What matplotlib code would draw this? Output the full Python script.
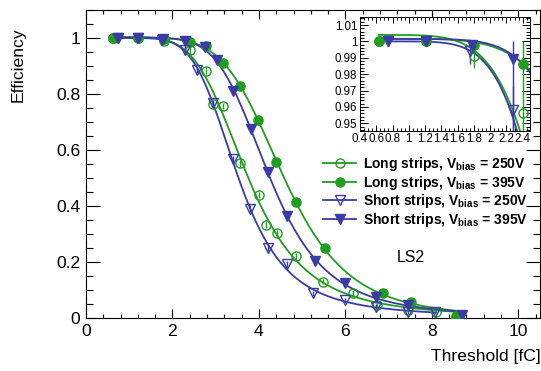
import numpy as np
import matplotlib
matplotlib.use("Agg")
import matplotlib.pyplot as plt
from matplotlib.lines import Line2D
from matplotlib.ticker import MultipleLocator

plt.rcParams['font.family'] = ['Liberation Sans', 'DejaVu Sans']
plt.rcParams['mathtext.fontset'] = 'custom'
plt.rcParams['mathtext.rm'] = 'Liberation Sans'
plt.rcParams['mathtext.bf'] = 'Liberation Sans:bold'

# ---------------- data ----------------
labels = ["Long strips, V$_{\\mathregular{bias}}$ = 250V",
          "Long strips, V$_{\\mathregular{bias}}$ = 395V",
          "Short strips, V$_{\\mathregular{bias}}$ = 250V",
          "Short strips, V$_{\\mathregular{bias}}$ = 395V"]

x_l250 = [0.63, 1.21, 1.80, 2.40, 2.77, 2.93, 3.17, 3.56, 4.00, 4.17, 4.42, 4.85, 5.48, 6.17, 6.73, 7.45, 8.10, 8.56]
y_l250 = [1.0, 1.0, 0.991, 0.956, 0.883, 0.764, 0.757, 0.552, 0.439, 0.332, 0.302, 0.220, 0.130, 0.090, 0.046, 0.030, 0.023, 0.008]
elo_l250 = [0.003, 0.003, 0.007, 0.030, 0.012, 0.012, 0.012, 0.012, 0.012, 0.012, 0.012, 0.012, 0.010, 0.010, 0.008, 0.008, 0.006, 0.005]
ehi_l250 = [0.0, 0.0, 0.007, 0.044, 0.012, 0.012, 0.012, 0.012, 0.012, 0.012, 0.012, 0.012, 0.010, 0.010, 0.008, 0.008, 0.006, 0.005]

x_l395 = [0.63, 1.21, 1.80, 2.40, 2.77, 3.16, 3.57, 3.98, 4.40, 4.85, 5.52, 6.87, 7.52, 8.56]
y_l395 = [1.0, 1.0, 0.998, 0.986, 0.971, 0.912, 0.829, 0.707, 0.558, 0.415, 0.249, 0.088, 0.058, 0.005]
elo_l395 = [0.002, 0.002, 0.003, 0.004, 0.006, 0.010, 0.012, 0.012, 0.012, 0.012, 0.012, 0.010, 0.008, 0.004]
ehi_l395 = [0.0, 0.0, 0.002, 0.004, 0.006, 0.010, 0.012, 0.012, 0.012, 0.012, 0.012, 0.010, 0.008, 0.004]

x_s250 = [0.75, 1.21, 1.75, 2.28, 2.57, 2.94, 3.39, 3.79, 4.21, 4.65, 5.25, 5.98, 6.71, 7.45, 8.07]
y_s250 = [1.0, 1.0, 0.994, 0.958, 0.886, 0.767, 0.567, 0.390, 0.250, 0.193, 0.088, 0.064, 0.041, 0.022, 0.020]
elo_s250 = [0.003, 0.003, 0.008, 0.015, 0.012, 0.012, 0.012, 0.012, 0.012, 0.012, 0.010, 0.008, 0.008, 0.006, 0.006]
ehi_s250 = [0.0, 0.0, 0.005, 0.015, 0.012, 0.012, 0.012, 0.012, 0.012, 0.012, 0.010, 0.008, 0.008, 0.006, 0.006]

x_s395 = [0.75, 1.21, 1.78, 2.28, 2.75, 3.02, 3.39, 3.81, 4.21, 4.65, 5.30, 5.98, 6.70, 7.45, 8.70]
y_s395 = [1.0, 1.0, 0.998, 0.989, 0.969, 0.921, 0.812, 0.675, 0.523, 0.364, 0.205, 0.125, 0.076, 0.046, 0.010]
elo_s395 = [0.002, 0.002, 0.003, 0.050, 0.006, 0.010, 0.012, 0.012, 0.012, 0.012, 0.012, 0.010, 0.008, 0.006, 0.004]
ehi_s395 = [0.0, 0.0, 0.002, 0.011, 0.006, 0.010, 0.012, 0.012, 0.012, 0.012, 0.012, 0.010, 0.008, 0.006, 0.004]

GREEN = '#1f9e1f'
BLUE = '#3b3ba6'

series = [
    (x_l250, y_l250, elo_l250, ehi_l250, GREEN, 'o', 'none'),
    (x_l395, y_l395, elo_l395, ehi_l395, GREEN, 'o', GREEN),
    (x_s250, y_s250, elo_s250, ehi_s250, BLUE, 'v', 'none'),
    (x_s395, y_s395, elo_s395, ehi_s395, BLUE, 'v', BLUE),
]

# ---------- fit: A / (1 + exp(a + b*u + c*u^2)), u = ln(x) ----------
def model(x, p):
    u = np.log(x)
    z = np.clip(p[1] + p[2] * u + p[3] * u * u, -50, 50)
    return p[0] / (1.0 + np.exp(z))

def fit(x, y):
    x = np.asarray(x, float); y = np.asarray(y, float)
    u = np.log(x)
    yc = np.clip(y, 0.004, 0.997)
    L = np.log((1 - yc) / yc)
    w = np.sqrt(yc * (1 - yc))
    V = np.vstack([np.ones_like(u), u, u * u]).T
    coef, *_ = np.linalg.lstsq(V * w[:, None], L * w, rcond=None)
    p = np.array([1.0, *coef])
    lam = 1e-3
    def res(p):
        return model(x, p) - y
    r = res(p); cost = (r ** 2).sum()
    for _ in range(300):
        J = np.empty((len(x), 4))
        for k in range(4):
            dp = np.zeros(4); h = 1e-6 * max(1.0, abs(p[k])); dp[k] = h
            J[:, k] = (res(p + dp) - r) / h
        Hm = J.T @ J
        g = J.T @ r
        step = np.linalg.solve(Hm + lam * np.diag(np.diag(Hm) + 1e-12), -g)
        pn = p + step
        rn = res(pn); cn = (rn ** 2).sum()
        if cn < cost:
            p, r, cost = pn, rn, cn
            lam *= 0.3
        else:
            lam *= 10
    return p

W, H = 541, 371
fig = plt.figure(figsize=(W / 100, H / 100), dpi=100)
ax = fig.add_axes([86 / W, 1 - 318 / H, (540 - 86) / W, (318 - 10) / H])
axin = fig.add_axes([360 / W, 1 - 130.7 / H, (530 - 360) / W, (130.7 - 17.3) / H])

handles = []
for (x, y, elo, ehi, c, m, fc) in series:
    p = fit(x, y)
    xx = np.linspace(min(x), max(x), 400)
    for a in (ax, axin):
        a.plot(xx, model(xx, p), color=c, lw=1.3, zorder=2)
        a.errorbar(x, y, yerr=[elo, ehi], fmt=m, color=c, mfc=fc, mec=c,
                   ms=7.0 if m == 'v' else 6.6, mew=1.0, elinewidth=1.0, capsize=0, zorder=3)
    handles.append(Line2D([], [], color=c, lw=1.3, marker=m, mfc=fc, mec=c, ms=6.5, mew=1.0))

# main axes styling
ax.set_xlim(0, 10.5)
ax.set_ylim(0, 1.1)
ax.xaxis.set_major_locator(MultipleLocator(2))
ax.xaxis.set_minor_locator(MultipleLocator(0.4))
ax.yaxis.set_major_locator(MultipleLocator(0.2))
ax.yaxis.set_minor_locator(MultipleLocator(0.05))
ax.xaxis.set_major_formatter(plt.FuncFormatter(lambda v, p: f"{v:g}"))
ax.yaxis.set_major_formatter(plt.FuncFormatter(lambda v, p: f"{v:g}"))
ax.tick_params(axis='x', which='major', direction='in', length=6.5, width=0.8, top=True, labelsize=12.6, pad=4)
ax.tick_params(axis='x', which='minor', direction='in', length=3.2, width=0.8, top=True)
ax.tick_params(axis='y', which='major', direction='in', length=9.8, width=0.8, right=True, labelsize=12.6, pad=4)
ax.tick_params(axis='y', which='minor', direction='in', length=4.9, width=0.8, right=True)
for sp in ax.spines.values():
    sp.set_linewidth(0.8)

fig.text(0.033, 1 - 28 / H, 'Efficiency', rotation=90, ha='center', va='top', fontsize=12.6)
fig.text(0.999, 1 - 356 / H, 'Threshold [fC]', ha='right', va='center', fontsize=12.6)
ax.text(411 / W, 1 - 257 / H, 'LS2', transform=fig.transFigure, ha='center', va='center', fontsize=11.4)

leg = ax.legend(handles, labels, loc='upper left', bbox_to_anchor=(323 / W, 1 - 155 / H),
                bbox_transform=fig.transFigure, frameon=False, handlelength=2.4,
                handletextpad=0.5, labelspacing=0.04, borderaxespad=0, borderpad=0,
                prop={'weight': 'bold', 'size': 10})

# inset styling
axin.set_xlim(0.4, 2.49)
axin.set_ylim(0.9455, 1.0147)
axin.xaxis.set_major_locator(MultipleLocator(0.2))
axin.xaxis.set_minor_locator(MultipleLocator(0.05))
axin.yaxis.set_major_locator(MultipleLocator(0.01))
axin.yaxis.set_minor_locator(MultipleLocator(0.002))
axin.xaxis.set_major_formatter(plt.FuncFormatter(lambda v, p: f"{v:g}"))
axin.yaxis.set_major_formatter(plt.FuncFormatter(lambda v, p: f"{v:g}"))
axin.tick_params(axis='x', which='major', direction='in', length=4.5, width=0.7, top=True, labelsize=8.3, pad=2)
axin.tick_params(axis='x', which='minor', direction='in', length=2.2, width=0.7, top=True)
axin.tick_params(axis='y', which='major', direction='in', length=5.5, width=0.7, right=True, labelsize=8.3, pad=2)
axin.tick_params(axis='y', which='minor', direction='in', length=2.7, width=0.7, right=True)
for sp in axin.spines.values():
    sp.set_linewidth(0.7)

fig.savefig('out.png', dpi=100)
